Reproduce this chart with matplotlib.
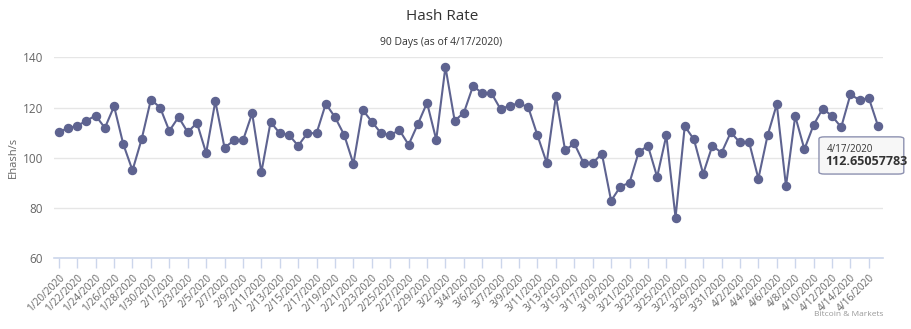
import matplotlib
matplotlib.use("Agg")
import matplotlib.pyplot as plt
import pandas as pd
from matplotlib.patches import FancyBboxPatch

# Daily hash rate, 90 samples (the feed carries 3/6 twice)
dates = [d.strftime("%-m/%-d/%Y") for d in pd.date_range("2020-01-20", "2020-04-17")]
dates.insert(dates.index("3/6/2020") + 1, "3/6/2020")

hash_rate = [
    110.3, 111.8, 112.7, 114.8, 116.8, 111.9, 120.5, 105.4, 95.0, 107.5,
    123.2, 120.0, 110.7, 116.2, 110.2, 113.9, 101.9, 122.5, 104.0, 106.9,
    106.9, 117.7, 94.2, 114.2, 109.8, 109.1, 104.8, 109.8, 109.8, 121.5,
    116.2, 109.1, 97.6, 119.1, 114.4, 109.8, 109.1, 111.0, 105.2, 113.4,
    121.9, 107.2, 136.2, 114.8, 117.9, 128.6, 125.7, 125.7, 119.3, 120.8,
    121.7, 120.1, 108.9, 98.0, 124.5, 103.0, 105.7, 98.0, 98.0, 101.6,
    82.9, 88.5, 90.1, 102.3, 104.8, 92.4, 108.9, 76.2, 112.6, 107.3,
    93.6, 104.8, 102.0, 110.1, 106.1, 106.1, 91.7, 108.9, 121.3, 88.7,
    116.6, 103.4, 113.1, 119.6, 116.6, 112.2, 125.2, 123.0, 123.8, 112.65057783,
]

y_ticks = [60, 80, 100, 120, 140]

LINE = "#5e6390"
AXIS = "#ccd6eb"
GRID = "#e6e6e6"
TEXT = "#666666"

plt.rcParams["font.family"] = ["Open Sans", "DejaVu Sans"]

fig = plt.figure(figsize=(9.12, 3.29), dpi=100)
fig.patch.set_facecolor("white")
ax = fig.add_axes([0.0595, 0.2149, 0.9083, 0.6109])

x = list(range(len(hash_rate)))
ax.plot(x, hash_rate, color=LINE, lw=1.5, marker="o", ms=5.8,
        markerfacecolor=LINE, markeredgecolor=LINE, zorder=3)

ax.set_xlim(-0.5, len(hash_rate) - 0.5)
ax.set_ylim(60, 140)
ax.set_yticks(y_ticks)
ax.set_yticklabels([str(v) for v in y_ticks], fontsize=8.5, color=TEXT)
ax.tick_params(axis="y", length=0, pad=8)
ax.grid(axis="y", color=GRID, lw=1)
ax.set_axisbelow(True)

ticks = x[::2]
ax.set_xticks(ticks)
ax.set_xticklabels([dates[i] for i in ticks], rotation=45, ha="right",
                   rotation_mode="anchor", fontsize=7.3, color=TEXT)
ax.tick_params(axis="x", length=7, width=1, color=AXIS, pad=3)

for side in ["top", "right", "left"]:
    ax.spines[side].set_visible(False)
ax.spines["bottom"].set_color(AXIS)
ax.spines["bottom"].set_linewidth(1.2)

ax.set_ylabel("Ehash/s", fontsize=8, color=TEXT, labelpad=3)

fig.text(0.485, 0.951, "Hash Rate", ha="center", va="center",
         fontsize=11, color="#333333")
fig.text(0.484, 0.872, "90 Days (as of 4/17/2020)", ha="center", va="center",
         fontsize=7.5, color="#333333")
fig.text(0.969, 0.045, "Bitcoin & Markets", ha="right", va="center",
         fontsize=6, color="#999999")

# hover tooltip on the latest value
box = FancyBboxPatch((0.898, 0.471), 0.093, 0.113,
                     boxstyle="round,pad=0,rounding_size=0.006",
                     transform=fig.transFigure, facecolor=(0.97, 0.97, 0.97, 0.88),
                     edgecolor="#8d91b0", lw=1, zorder=10)
fig.add_artist(box)
fig.text(0.906, 0.547, dates[-1], ha="left", va="center",
         fontsize=7, color="#333333", zorder=11)
fig.text(0.905, 0.51, f"{hash_rate[-1]:.8f}", ha="left", va="center",
         fontsize=9, fontweight="bold", color="#333333", zorder=11)

fig.savefig("out.png", dpi=100)
